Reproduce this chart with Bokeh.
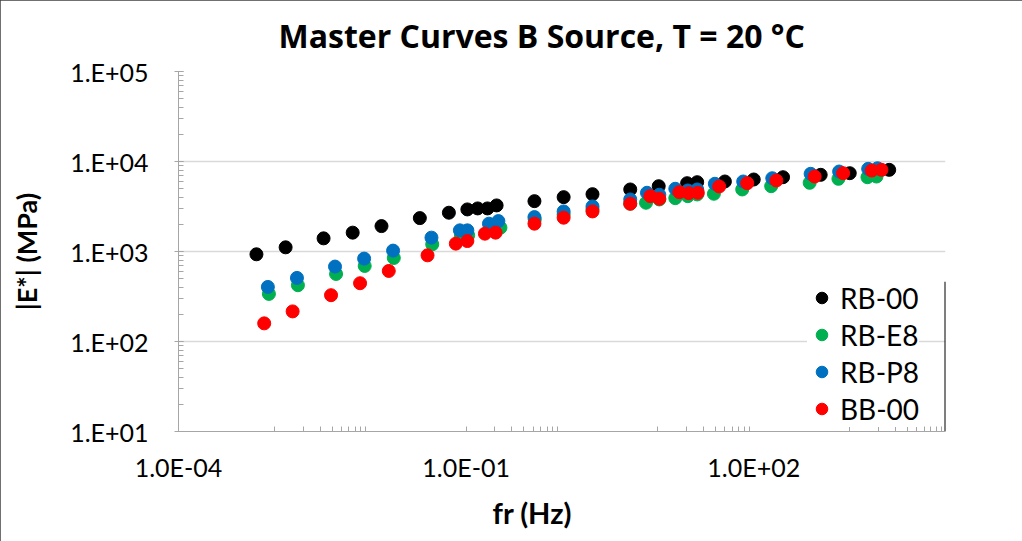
from bokeh.plotting import figure
from bokeh.models import (Range1d, FixedTicker, Legend, LegendItem, Title, ColumnDataSource)
from bokeh.embed import file_html
from bokeh.resources import INLINE

# ---------------- data ----------------
series_names = ["RB-00", "RB-E8", "RB-P8", "BB-00"]
series_colors = ["#000000", "#00b050", "#0070c0", "#ff0000"]

rb00_fr = [6.50e-4, 1.31e-3, 3.26e-3, 6.56e-3, 1.31e-2, 3.29e-2, 6.61e-2, 0.103, 0.132, 0.167,
           0.208, 0.516, 1.04, 2.08, 5.15, 10.2, 20.2, 25.7, 50.0, 100.0, 202.0, 499.0, 1003.0,
           2000.0, 2588.0]
rb00_e = [931, 1113, 1400, 1620, 1916, 2350, 2698, 2935, 3011, 3011, 3251, 3627, 4018, 4336,
          4890, 5318, 5741, 5890, 5997, 6310, 6691, 7112, 7413, 7740, 8080]

rbe8_fr = [8.77e-4, 1.76e-3, 4.40e-3, 8.75e-3, 1.76e-2, 4.43e-2, 8.82e-2, 0.105, 0.177, 0.228,
           0.52, 1.04, 2.08, 5.15, 7.52, 10.35, 15.2, 20.5, 25.7, 38.4, 75.8, 152.0, 383.0,
           764.0, 1535.0, 1906.0]
rbe8_e = [338, 422, 563, 691, 847, 1202, 1474, 1512, 1749, 1840, 2274, 2584, 2935, 3396, 3482,
          3787, 3916, 4121, 4305, 4381, 4890, 5318, 5800, 6424, 6691, 6808]

rbp8_fr = [8.55e-4, 1.72e-3, 4.29e-3, 8.63e-3, 1.73e-2, 4.35e-2, 8.61e-2, 0.103, 0.173, 0.217,
           0.516, 1.04, 2.08, 5.15, 7.70, 10.35, 15.2, 20.5, 25.7, 39.3, 77.6, 156.0, 392.0,
           777.0, 1561.0, 1954.0]
rbp8_e = [404, 509, 680, 834, 1023, 1426, 1718, 1718, 2038, 2178, 2411, 2788, 3170, 3787, 4494,
          4271, 4977, 4764, 4890, 5655, 5997, 6518, 7296, 7740, 8290, 8414]

bb00_fr = [7.83e-4, 1.55e-3, 3.90e-3, 7.83e-3, 1.56e-2, 3.96e-2, 7.81e-2, 0.103, 0.157, 0.203,
           0.516, 1.04, 2.08, 5.15, 8.34, 10.35, 16.75, 21.0, 26.1, 43.6, 85.5, 172.0, 432.0,
           855.0, 1702.0, 2149.0]
bb00_e = [159, 216, 327, 444, 608, 907, 1223, 1307, 1578, 1620, 2038, 2374, 2788, 3396, 4121,
          3855, 4563, 4449, 4494, 5276, 5741, 6151, 6808, 7413, 7937, 8080]

x_ticks = [1e-4, 1e-1, 1e2]
x_tick_labels = ["1.0E-04", "1.0E-01", "1.0E+02"]
y_ticks = [1e1, 1e2, 1e3, 1e4, 1e5]
y_tick_labels = ["1.E+01", "1.E+02", "1.E+03", "1.E+04", "1.E+05"]
x_minor_decades = [1e-3, 1e-1, 1e1, 1e3]
y_minor_decades = [1e1, 1e2, 1e3, 1e4]
multipliers = [1, 2, 3, 4, 5, 6, 7, 8, 9]

title_text = "Master Curves B Source, T = 20 \u00b0C"
x_title = "fr (Hz)"
y_title = "|E*| (MPa)"

# right-hand edge line of the plot area beside the legend (decoration)
edge_x = [1e4]
edge_y_low = [1e1]
edge_y_high = [460]

FONT = "Lato"

# ---------------- figure ----------------
p = figure(width=1022, height=541, x_axis_type="log", y_axis_type="log",
           x_range=Range1d(1e-4, 1e4), y_range=Range1d(1e1, 1e5),
           output_backend="svg", toolbar_location=None,
           min_border_left=178, min_border_right=77, min_border_top=71, min_border_bottom=109,
           background_fill_color="white", border_fill_color="white",
           styles={"outline": "1px solid #404040", "outline-offset": "-1px"})
p.outline_line_color = None

x_minor = [m * d for d in x_minor_decades for m in multipliers]
y_minor = [m * d for d in y_minor_decades for m in multipliers] + [1e5]

xa = p.xaxis[0]
xa.ticker = FixedTicker(ticks=x_ticks, minor_ticks=x_minor)
xa.major_label_overrides = {t: l for t, l in zip(x_ticks, x_tick_labels)}
xa.major_tick_in = 0
xa.major_tick_out = 0
xa.minor_tick_in = 5
xa.minor_tick_out = 0
xa.axis_line_color = "#a6a6a6"
xa.minor_tick_line_color = "#a6a6a6"
xa.major_label_text_font = FONT
xa.major_label_text_font_size = "25px"
xa.major_label_text_color = "#000000"
xa.major_label_standoff = 20

ya = p.yaxis[0]
ya.ticker = FixedTicker(ticks=y_ticks, minor_ticks=y_minor)
ya.major_label_overrides = {t: l for t, l in zip(y_ticks, y_tick_labels)}
ya.major_tick_in = 5
ya.major_tick_out = 4
ya.minor_tick_in = 5
ya.minor_tick_out = 0
ya.axis_line_color = "#a6a6a6"
ya.major_tick_line_color = "#a6a6a6"
ya.minor_tick_line_color = "#a6a6a6"
ya.major_label_text_font = FONT
ya.major_label_text_font_size = "25px"
ya.major_label_text_color = "#000000"
ya.major_label_standoff = 26
ya.axis_label = y_title
ya.axis_label_text_font = FONT
ya.axis_label_text_font_style = "bold"
ya.axis_label_text_font_size = "27px"
ya.axis_label_text_color = "#000000"
ya.axis_label_standoff = 24

p.xgrid.grid_line_color = None
p.ygrid.grid_line_color = "#d9d9d9"
p.ygrid.grid_line_width = 1.5

# ---------------- series ----------------
all_x = [rb00_fr, rbe8_fr, rbp8_fr, bb00_fr]
all_y = [rb00_e, rbe8_e, rbp8_e, bb00_e]
items = []
for name, color, xs, ys in zip(series_names, series_colors, all_x, all_y):
    src = ColumnDataSource(dict(x=xs, y=ys))
    r = p.scatter("x", "y", source=src, size=13, marker="circle",
                  fill_color=color, line_color=color)
    items.append(LegendItem(label=name, renderers=[r]))

legend = Legend(items=items, location=(629, 4), orientation="vertical",
                label_text_font=FONT, label_text_font_size="28px", label_text_color="#000000",
                glyph_width=29, glyph_height=37, label_height=37, spacing=0,
                padding=4, margin=0, label_standoff=4,
                border_line_color=None, background_fill_color="white",
                background_fill_alpha=1.0)
p.add_layout(legend, "center")

p.segment(x0=edge_x, y0=edge_y_low, x1=edge_x, y1=edge_y_high,
          line_color="#000000", line_width=2)

# chart title (above the frame)
t_top = Title(text=title_text, align="left", offset=100, vertical_align="top", standoff=25,
              text_font="Open Sans", text_font_style="bold", text_font_size="32px",
              text_color="#000000")
p.add_layout(t_top, "above")

# x axis title (below the tick labels)
t_x = Title(text=x_title, align="left", offset=314, vertical_align="top", standoff=20,
            text_font=FONT, text_font_style="bold", text_font_size="29px",
            text_color="#000000")
p.add_layout(t_x, "below")

open("out.html", "w").write(file_html(p, INLINE))
